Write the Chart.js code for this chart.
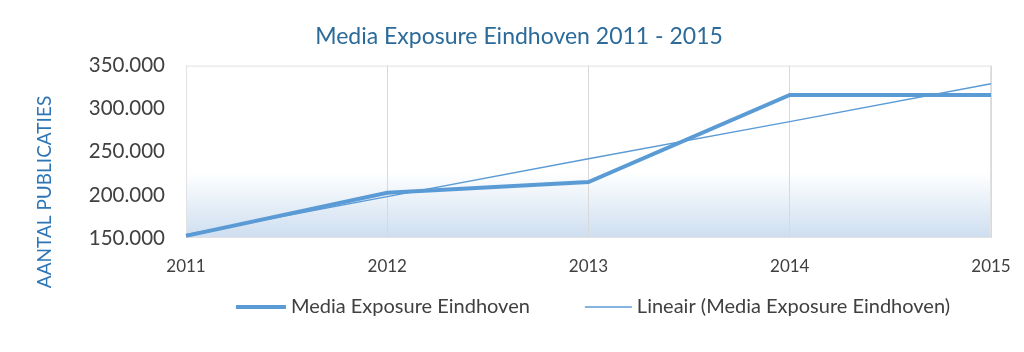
<!DOCTYPE html>
<html lang="nl">
<head>
  <meta charset="UTF-8">
  <title>Media Exposure Eindhoven 2011 - 2015</title>
  <script src="https://cdn.jsdelivr.net/npm/chart.js"></script>
  <style>
    html, body { margin: 0; padding: 0; background: #fff; }
    #wrap { width: 1024px; height: 352px; }
  </style>
</head>
<body>
  <div id="wrap"><canvas id="exposureChart"></canvas></div>

  <script>
    // values
    const years = ['2011', '2012', '2013', '2014', '2015'];
    const exposure = [152500, 202500, 215000, 316000, 316000];
    const trend = [154000, 198000, 242000, 285000, 329000];
    const yTicks = [150000, 200000, 250000, 300000, 350000];

    const blue = '#5b9bd5';
    const font = 'Lato, "Open Sans", sans-serif';

    // light blue wash at the bottom of the plot + thin frame
    const plotBackground = {
      id: 'plotBackground',
      beforeDraw(chart) {
        const { ctx, chartArea: a } = chart;
        const g = ctx.createLinearGradient(0, a.top, 0, a.bottom);
        g.addColorStop(0, 'rgba(255,255,255,1)');
        g.addColorStop(0.62, 'rgba(255,255,255,1)');
        g.addColorStop(1, 'rgba(205,222,240,1)');
        ctx.save();
        ctx.fillStyle = g;
        ctx.fillRect(a.left, a.top, a.right - a.left, a.bottom - a.top);
        ctx.restore();
      },
      beforeDatasetsDraw(chart) {
        const { ctx, chartArea: a } = chart;
        ctx.save();
        ctx.strokeStyle = '#e2e2e2';
        ctx.lineWidth = 1;
        ctx.strokeRect(a.left + 0.5, a.top + 0.5, a.right - a.left - 1, a.bottom - a.top - 1);
        ctx.restore();
      }
    };

    // vertical axis title, sits lower than the plot centre like the original
    const axisTitle = {
      id: 'axisTitle',
      afterDraw(chart) {
        const { ctx } = chart;
        ctx.save();
        ctx.translate(45, 192);
        ctx.rotate(-Math.PI / 2);
        ctx.font = '19px ' + font;
        ctx.fillStyle = '#2e75b6';
        ctx.textAlign = 'center';
        ctx.textBaseline = 'middle';
        ctx.fillText('AANTAL PUBLICATIES', 0, 0);
        ctx.restore();
      }
    };

    // legend with wide gap between the two entries
    const lineLegend = {
      id: 'lineLegend',
      afterDraw(chart) {
        const { ctx } = chart;
        const sampleW = [50, 47];
        const gap = 55, textGap = 5, y = 307, centre = 593;
        ctx.save();
        ctx.font = '20px ' + font;
        const sets = chart.data.datasets;
        let total = 0;
        sets.forEach((ds, i) => {
          total += sampleW[i] + textGap + ctx.measureText(ds.label).width;
          if (i < sets.length - 1) total += gap;
        });
        let x = centre - total / 2;
        sets.forEach((ds, i) => {
          ctx.strokeStyle = ds.borderColor;
          ctx.lineWidth = ds.borderWidth;
          ctx.beginPath();
          ctx.moveTo(x, y);
          ctx.lineTo(x + sampleW[i], y);
          ctx.stroke();
          x += sampleW[i] + textGap;
          ctx.fillStyle = '#404040';
          ctx.textAlign = 'left';
          ctx.textBaseline = 'middle';
          ctx.fillText(ds.label, x, y);
          x += ctx.measureText(ds.label).width + gap;
        });
        ctx.restore();
      }
    };

    const ctx = document.getElementById('exposureChart').getContext('2d');
    const exposureChart = new Chart(ctx, {
      type: 'line',
      data: {
        labels: years,
        datasets: [{
          label: 'Media Exposure Eindhoven',
          data: exposure,
          borderColor: blue,
          borderWidth: 4,
          pointRadius: 0,
          tension: 0,
        }, {
          label: 'Lineair (Media Exposure Eindhoven)',
          data: trend,
          borderColor: blue,
          borderWidth: 1.5,
          pointRadius: 0,
          tension: 0,
        }],
      },
      options: {
        responsive: true,
        maintainAspectRatio: false,
        animation: false,
        layout: {
          padding: { left: 47, right: 33, top: 0, bottom: 74 },
        },
        plugins: {
          legend: { display: false },
          tooltip: { enabled: false },
          title: {
            display: true,
            text: 'Media Exposure Eindhoven 2011 - 2015',
            color: '#2b6a99',
            font: { family: font, size: 23, weight: 'normal' },
            padding: { top: 23, bottom: 15 },
          },
        },
        scales: {
          x: {
            grid: { color: '#d9d9d9', drawTicks: false },
            border: { display: false },
            ticks: {
              color: '#404040',
              font: { family: font, size: 17 },
              padding: 18,
              maxRotation: 0,
            },
            afterFit(scale) {
              scale.height = 40;
              scale.paddingLeft = 0;
              scale.paddingRight = 0;
            },
          },
          y: {
            min: 150000,
            max: 350000,
            grid: { display: false },
            border: { display: false },
            afterBuildTicks(scale) {
              scale.ticks = yTicks.map(v => ({ value: v }));
            },
            ticks: {
              color: '#404040',
              font: { family: font, size: 20.5 },
              padding: 13,
              callback: v => v.toLocaleString('nl-NL'),
            },
            afterFit(scale) { scale.width = 139; },
          },
        },
      },
      plugins: [plotBackground, axisTitle, lineLegend],
    });
  </script>
</body>
</html>
